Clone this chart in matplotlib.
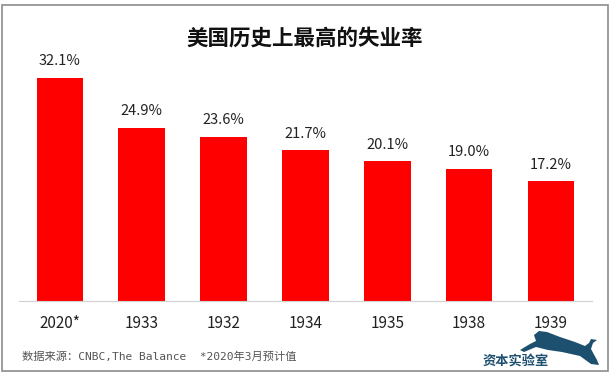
import matplotlib.pyplot as plt
import matplotlib.patches as mpatches

plt.rcParams['font.family'] = ['Noto Sans CJK SC', 'DejaVu Sans']

years = ["2020*", "1933", "1932", "1934", "1935", "1938", "1939"]
rates = [32.1, 24.9, 23.6, 21.7, 20.1, 19.0, 17.2]

W, H = 612, 380
fig = plt.figure(figsize=(6.12, 3.8), dpi=100)
ax = fig.add_axes([0.031, 0.208, 0.936, 0.658])

x = range(len(years))
ax.bar(x, rates, width=0.57, color='#ff0000')
for xi, v in zip(x, rates):
    ax.annotate(f"{v:.1f}%", (xi, v), xytext=(0, 7), textcoords='offset points',
                ha='center', va='bottom', fontsize=10.5, color='#222222')

ax.set_xlim(-0.5, len(years) - 0.5)
ax.set_ylim(0, 36)
ax.set_xticks(list(x))
ax.set_xticklabels(years, fontsize=11, color='#222222')
ax.tick_params(axis='x', length=0, pad=10)
ax.set_yticks([])
for s in ['top', 'right', 'left']:
    ax.spines[s].set_visible(False)
ax.spines['bottom'].set_color('#d0d0d0')

fig.text(0.498, 0.90, "美国历史上最高的失业率", ha='center', va='center',
         fontsize=15.5, fontweight='bold', color='#111111')
fig.text(0.036, 0.06, "数据来源：CNBC,The Balance  *2020年3月预计值", ha='left', va='center',
         fontsize=8.1, color='#555555', family=['DejaVu Sans Mono', 'Noto Sans CJK SC'])
fig.text(516 / W, 1 - 362 / H, "资本实验室", ha='center', va='center',
         fontsize=9.5, fontweight='bold', color='#1d4f6e')

# rough leaping cat of the logo, pixel coords from the top left
cat = [(520, 350), (530, 344), (536, 341), (534, 335), (539, 331), (547, 332),
       (560, 337), (575, 342), (585, 346), (589, 343), (591, 339), (597, 340),
       (593, 343), (591, 349), (597, 360), (599, 365), (591, 364), (580, 356),
       (562, 352), (548, 350), (536, 347), (524, 352)]
fig.patches.append(mpatches.Polygon([(px / W, 1 - py / H) for px, py in cat],
                                    closed=True, transform=fig.transFigure,
                                    facecolor='#1d4f6e', edgecolor='none'))

# grey frame round the whole picture
fig.patches.append(mpatches.Rectangle((0.004, 0.024), 0.99, 0.964, transform=fig.transFigure,
                                      fill=False, edgecolor='#8c8c8c', linewidth=1.2))

plt.savefig("out.png", dpi=100)
